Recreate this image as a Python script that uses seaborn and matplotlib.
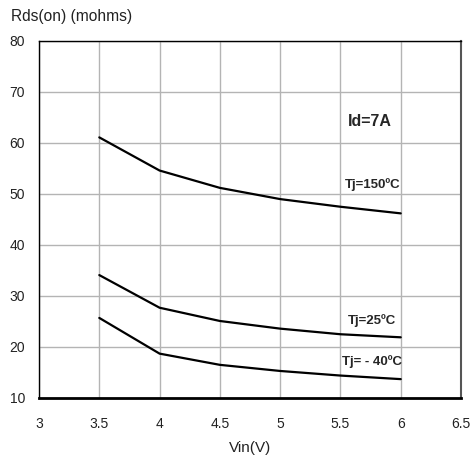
import pandas as pd
import numpy as np
import matplotlib.pyplot as plt
import seaborn as sns

# values
vin = [3.5, 4.0, 4.5, 5.0, 5.5, 6.0]
rds_150 = [61.1, 54.6, 51.2, 49.0, 47.5, 46.2]
rds_25 = [34.1, 27.7, 25.1, 23.6, 22.5, 21.9]
rds_m40 = [25.7, 18.7, 16.5, 15.3, 14.4, 13.7]
curve_names = ['Tj=150ºC', 'Tj=25ºC', 'Tj= - 40ºC']
x_ticks = [3, 3.5, 4, 4.5, 5, 5.5, 6, 6.5]
y_ticks = [10, 20, 30, 40, 50, 60, 70, 80]

df = pd.DataFrame({
    'Vin': vin * 3,
    'Rds': rds_150 + rds_25 + rds_m40,
    'curve': [curve_names[0]] * 6 + [curve_names[1]] * 6 + [curve_names[2]] * 6,
})

sns.set_style('white')
plt.rcParams['font.family'] = ['Liberation Sans', 'DejaVu Sans']

fig = plt.figure(figsize=(4.74, 4.59), dpi=100)
ax = fig.add_axes([0.0823, 0.1329, 0.8903, 0.7778])

sns.lineplot(data=df, x='Vin', y='Rds', hue='curve', palette=['black'] * 3,
             linewidth=1.6, legend=False, ax=ax)

ax.set_xlim(3, 6.5)
ax.set_ylim(10, 80)
ax.set_xticks(x_ticks)
ax.set_xticklabels(['3', '3.5', '4', '4.5', '5', '5.5', '6', '6.5'])
ax.set_yticks(y_ticks)
ax.grid(True, color='#b4b4b4', linewidth=1.0)
ax.set_axisbelow(True)
ax.tick_params(axis='both', length=0, labelsize=10, colors='#222222')
ax.tick_params(axis='x', pad=14)
ax.tick_params(axis='y', pad=10)

for side in ['left', 'top']:
    ax.spines[side].set_color('black')
    ax.spines[side].set_linewidth(1.0)
ax.spines['right'].set_color('#555555')
ax.spines['right'].set_linewidth(1.5)
ax.spines['bottom'].set_color('black')
ax.spines['bottom'].set_linewidth(2.0)

ax.set_xlabel('')
ax.set_ylabel('')
fig.text(250 / 474, 1 - 448 / 459, 'Vin(V)', fontsize=11, color='#222222',
         ha='center', va='center')
fig.text(11 / 474, 1 - 16 / 459, 'Rds(on) (mohms)', fontsize=11.2, color='#222222',
         ha='left', va='center')

ax.text(5.745, 64.3, 'Id=7A', fontsize=11.5, fontweight='bold', ha='center', va='center')
ax.text(6.0, 51.8, curve_names[0], fontsize=9.5, fontweight='bold', ha='right', va='center')
ax.text(5.96, 25.1, curve_names[1], fontsize=9.5, fontweight='bold', ha='right', va='center')
ax.text(6.01, 17.2, curve_names[2], fontsize=9.5, fontweight='bold', ha='right', va='center')

fig.savefig('out.png', dpi=100)
